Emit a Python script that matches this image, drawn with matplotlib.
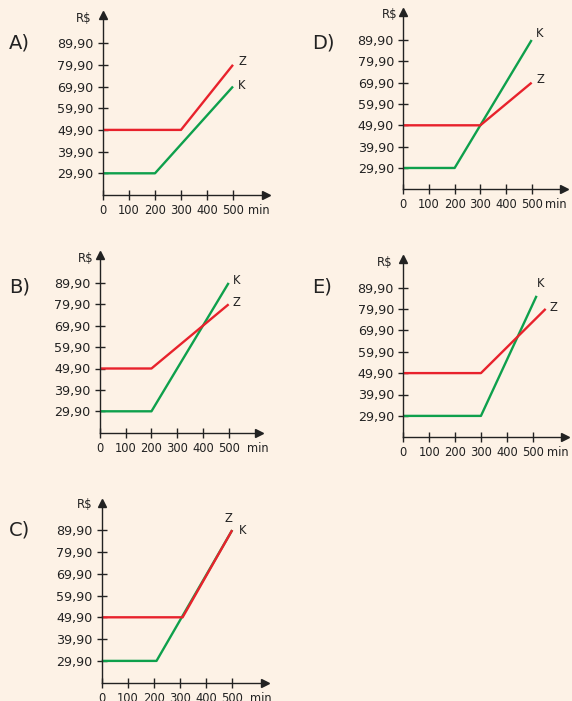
import matplotlib
matplotlib.use('Agg')
import matplotlib.pyplot as plt

W, H = 572, 701
BG = '#fdf2e6'
RED = '#e8222c'
GREEN = '#0ea04c'
INK = '#222222'

# values (minutes, R$)
A_z_x = [0, 300, 500]
A_z_y = [49.9, 49.9, 79.9]
A_k_x = [0, 200, 500]
A_k_y = [29.9, 29.9, 69.9]

B_z_x = [0, 200, 500]
B_z_y = [49.9, 49.9, 79.9]
B_k_x = [0, 200, 500]
B_k_y = [29.9, 29.9, 89.9]

C_z_x = [0, 310, 500]
C_z_y = [49.9, 49.9, 89.9]
C_k_x = [0, 210, 500]
C_k_y = [29.9, 29.9, 89.9]

D_z_x = [0, 300, 500]
D_z_y = [49.9, 49.9, 69.9]
D_k_x = [0, 200, 500]
D_k_y = [29.9, 29.9, 89.9]

E_z_x = [0, 300, 550]
E_z_y = [49.9, 49.9, 79.9]
E_k_x = [0, 300, 515]
E_k_y = [29.9, 29.9, 86.0]

x_ticks = [0, 100, 200, 300, 400, 500]
y_ticks = [29.9, 39.9, 49.9, 59.9, 69.9, 79.9, 89.9]
y_labels = ['29,90', '39,90', '49,90', '59,90', '69,90', '79,90', '89,90']

# layout in pixels: origin x, origin y, px per min, px per R$, x arrow end, y arrow top,
# letter position, R$ / min offsets, offsets (points) of the Z and K labels
panels = [
    dict(name='A)', ox=103, oy=195, sx=0.260, sy=2.17, xe=266, yt=15,
         lx=9, ly=43, rx=-19, ry=18, mx=15, z=(A_z_x, A_z_y), k=(A_k_x, A_k_y),
         zoff=(6.5, 2.2), koff=(6.5, 1.0)),
    dict(name='D)', ox=403.3, oy=189.3, sx=0.2567, sy=2.133, xe=564, yt=12,
         lx=312, ly=43, rx=-14, ry=14, mx=13, z=(D_z_x, D_z_y), k=(D_k_x, D_k_y),
         zoff=(6.0, 2.0), koff=(6.0, 4.8)),
    dict(name='B)', ox=100, oy=432.7, sx=0.2573, sy=2.14, xe=259, yt=255,
         lx=9, ly=287, rx=-14, ry=258, mx=18, z=(B_z_x, B_z_y), k=(B_k_x, B_k_y),
         zoff=(5.8, 1.2), koff=(5.8, 1.5)),
    dict(name='E)', ox=403.3, oy=437.3, sx=0.2588, sy=2.14, xe=565, yt=259,
         lx=312, ly=287, rx=-19, ry=262.5, mx=14, z=(E_z_x, E_z_y), k=(E_k_x, E_k_y),
         zoff=(5.6, 0.7), koff=(3.2, 9.0)),
    dict(name='C)', ox=101.7, oy=682.7, sx=0.261, sy=2.18, xe=265, yt=503,
         lx=9, ly=530, rx=-17, ry=505, mx=17.5, z=(C_z_x, C_z_y), k=(C_k_x, C_k_y),
         zoff=(-2.4, 8.6), koff=(7.7, 0.0)),
]

PT = 0.72  # points per pixel at 100 dpi

fig = plt.figure(figsize=(W / 100, H / 100), dpi=100, facecolor=BG)


def draw_panel(p):
    left = p['ox'] / W
    bottom = (H - p['oy']) / H
    width = (p['xe'] - p['ox']) / W
    height = (p['oy'] - p['yt']) / H
    ax = fig.add_axes([left, bottom, width, height])
    ax.set_facecolor('none')
    ax.set_xlim(0, (p['xe'] - p['ox']) / p['sx'])
    ax.set_ylim(19.9, 19.9 + (p['oy'] - p['yt']) / p['sy'])

    for s in ['top', 'right']:
        ax.spines[s].set_visible(False)
    for s in ['left', 'bottom']:
        ax.spines[s].set_linewidth(1.0)
        ax.spines[s].set_color(INK)

    ax.set_xticks(x_ticks)
    ax.set_xticklabels([str(v) for v in x_ticks])
    ax.set_yticks(y_ticks)
    ax.set_yticklabels(y_labels)
    ax.tick_params(axis='x', direction='inout', length=7, width=1.0, color=INK,
                   labelsize=8.3, labelcolor=INK, pad=3.0)
    ax.tick_params(axis='y', direction='inout', length=7, width=1.0, color=INK,
                   labelsize=9.2, labelcolor=INK, pad=3.2)

    # arrow heads
    ax.plot(1, 19.9, '>', color=INK, ms=6, transform=ax.get_yaxis_transform(), clip_on=False)
    ax.plot(0, 1, '^', color=INK, ms=6, transform=ax.get_xaxis_transform(), clip_on=False)

    kx, ky = p['k']
    zx, zy = p['z']
    ax.plot(kx, ky, color=GREEN, lw=1.7, solid_capstyle='butt', clip_on=False)
    ax.plot(zx, zy, color=RED, lw=1.7, solid_capstyle='butt', clip_on=False)

    ax.annotate('Z', (zx[-1], zy[-1]), xytext=p['zoff'], textcoords='offset points',
                ha='center', va='center', fontsize=8.3, color=INK)
    ax.annotate('K', (kx[-1], ky[-1]), xytext=p['koff'], textcoords='offset points',
                ha='center', va='center', fontsize=8.3, color=INK)

    # axis names
    fig.text((p['ox'] + p['rx']) / W, 1 - p['ry'] / H, 'R$', ha='center', va='center',
             fontsize=8.5, color=INK)
    ax.annotate('min', (500, 19.9), xytext=(p['mx'] * PT, -11.2),
                textcoords='offset points', ha='left', va='center',
                fontsize=8.3, color=INK, annotation_clip=False)

    fig.text(p['lx'] / W, 1 - p['ly'] / H, p['name'], ha='left', va='center',
             fontsize=14, color=INK)


for p in panels:
    draw_panel(p)

fig.savefig('out.png', dpi=100, facecolor=BG)
